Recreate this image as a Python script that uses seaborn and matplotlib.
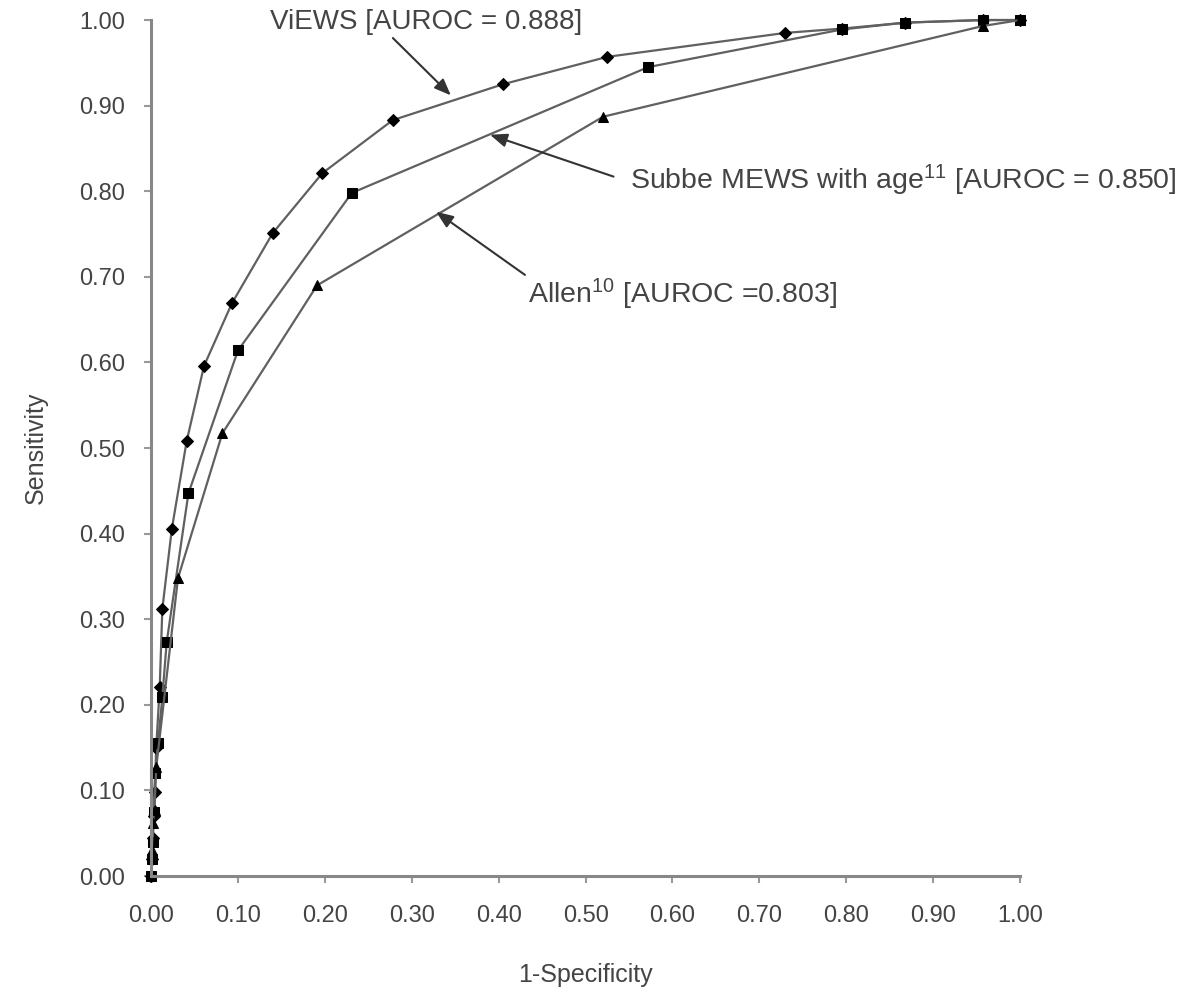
import matplotlib
matplotlib.use("Agg")
import matplotlib.pyplot as plt
import seaborn as sns
import pandas as pd

# ---- data ----
views_x = [0.0, 0.001, 0.002, 0.003, 0.004, 0.006, 0.010, 0.013, 0.024, 0.041, 0.061,
           0.093, 0.140, 0.197, 0.278, 0.405, 0.525, 0.730, 0.795, 0.868, 0.957, 1.0]
views_y = [0.0, 0.02, 0.045, 0.07, 0.098, 0.15, 0.221, 0.312, 0.406, 0.508, 0.596,
           0.669, 0.751, 0.821, 0.883, 0.925, 0.957, 0.985, 0.990, 0.997, 1.0, 1.0]

subbe_x = [0.0, 0.001, 0.002, 0.003, 0.005, 0.008, 0.013, 0.018, 0.043, 0.100,
           0.231, 0.572, 0.795, 0.868, 0.957, 1.0]
subbe_y = [0.0, 0.02, 0.04, 0.075, 0.12, 0.155, 0.209, 0.273, 0.447, 0.614,
           0.798, 0.945, 0.989, 0.997, 1.0, 1.0]

allen_x = [0.0, 0.001, 0.002, 0.004, 0.006, 0.031, 0.082, 0.191, 0.520, 0.957, 1.0]
allen_y = [0.0, 0.03, 0.062, 0.077, 0.127, 0.348, 0.517, 0.690, 0.887, 0.993, 1.0]

series_names = ["VIEWS", "Subbe", "Allen"]
ticks = [0.0, 0.1, 0.2, 0.3, 0.4, 0.5, 0.6, 0.7, 0.8, 0.9, 1.0]
tick_labels = ["0.00", "0.10", "0.20", "0.30", "0.40", "0.50", "0.60", "0.70", "0.80", "0.90", "1.00"]

sns.set_style("ticks")
plt.rcParams["font.family"] = ["Liberation Sans", "DejaVu Sans"]
plt.rcParams["mathtext.fontset"] = "custom"
plt.rcParams["mathtext.rm"] = "Liberation Sans"
plt.rcParams["mathtext.it"] = "Liberation Sans"
plt.rcParams["mathtext.bf"] = "Liberation Sans"

fig = plt.figure(figsize=(11.93, 9.92), dpi=100)
ax = fig.add_axes([0.1266, 0.1169, 0.7285, 0.8629])

line_col = "#606060"
data = [(views_x, views_y, "D", 6.5), (subbe_x, subbe_y, "s", 7.5), (allen_x, allen_y, "^", 7)]
for name, (xs, ys, mk, ms) in zip(series_names, data):
    df = pd.DataFrame({"x": xs, "y": ys})
    sns.lineplot(data=df, x="x", y="y", sort=False, ax=ax, color=line_col, lw=1.6,
                 marker=mk, markersize=ms, markerfacecolor="black",
                 markeredgecolor="black", clip_on=False, estimator=None)

ax.set_xlim(0, 1)
ax.set_ylim(0, 1)
ax.set_xticks(ticks)
ax.set_xticklabels(tick_labels)
ax.set_yticks(ticks)
ax.set_yticklabels(tick_labels)
ax.tick_params(axis="both", colors="#999999", labelcolor="#444444", labelsize=17,
               length=5, width=1.5, direction="out")
ax.tick_params(axis="x", pad=16)
ax.tick_params(axis="y", pad=14)
for s in ["top", "right"]:
    ax.spines[s].set_visible(False)
for s in ["left", "bottom"]:
    ax.spines[s].set_color("#888888")
    ax.spines[s].set_linewidth(2.2)

ax.set_xlabel("1-Specificity", fontsize=18, color="#444444", labelpad=26)
ax.set_ylabel("Sensitivity", fontsize=18, color="#444444", labelpad=22)

arrow_kw = dict(arrowstyle="-|>,head_length=0.5,head_width=0.2", color="#333333", lw=1.5,
                shrinkA=0, shrinkB=0)
ax.annotate("ViEWS [AUROC = 0.888]", xy=(0.345, 0.912), xytext=(0.317, 0.998),
            ha="center", va="center", fontsize=20, color="#444444",
            arrowprops=dict(arrow_kw, relpos=(0.39, -0.1)), annotation_clip=False)
ax.annotate(r"Subbe MEWS with age$^{11}$ [AUROC = 0.850]", xy=(0.39, 0.866),
            xytext=(0.551, 0.813), ha="left", va="center", fontsize=20.5, color="#444444",
            arrowprops=dict(arrow_kw, relpos=(-0.03, 0.6)), annotation_clip=False)
ax.annotate(r"Allen$^{10}$ [AUROC =0.803]", xy=(0.328, 0.776),
            xytext=(0.434, 0.679), ha="left", va="center", fontsize=20.5, color="#444444",
            arrowprops=dict(arrow_kw, relpos=(0.0, 1.0)), annotation_clip=False)

fig.savefig("out.png", dpi=100, facecolor="white")
